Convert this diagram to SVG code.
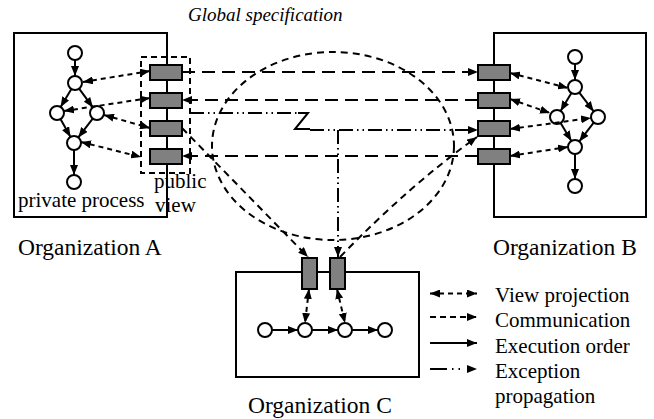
<svg xmlns="http://www.w3.org/2000/svg" width="654" height="419" viewBox="0 0 654 419">
<defs>
<marker id="ah" viewBox="0 0 10 8" refX="10" refY="4" markerWidth="10" markerHeight="8" markerUnits="userSpaceOnUse" orient="auto-start-reverse">
<path d="M0,0 L10,4 L0,8 z" fill="#000"/>
</marker>
<style>
.box{fill:#fff;stroke:#000;stroke-width:2}
.port{fill:#808080;stroke:#000;stroke-width:2}
.node{fill:#fff;stroke:#000;stroke-width:2}
text{fill:#000}
.exec{stroke:#000;stroke-width:2;fill:none;marker-end:url(#ah)}
.vp{stroke:#000;stroke-width:2;fill:none;stroke-dasharray:5 4;marker-start:url(#ah);marker-end:url(#ah)}
.comm{stroke:#000;stroke-width:2;fill:none;stroke-dasharray:13 7;marker-end:url(#ah)}
.comm2{stroke:#000;stroke-width:2;fill:none;stroke-dasharray:7 5;marker-end:url(#ah)}
.ell{stroke:#000;stroke-width:2;fill:none;stroke-dasharray:7 5}
.exc{stroke:#000;stroke-width:2;fill:none;stroke-dasharray:14 4 1.5 4 1.5 4}
.solid{stroke:#000;stroke-width:2;fill:none}
.pv{fill:none;stroke:#000;stroke-width:2;stroke-dasharray:6 4}
</style>
</defs>
<rect width="654" height="419" fill="#fff"/>
<g font-family="Liberation Serif, Times New Roman, serif">
<text x="188" y="21" font-size="19" font-style="italic">Global specification</text>
</g>

<g id="orgA" font-family="Liberation Serif, Times New Roman, serif">
<rect class="box" x="14" y="33" width="153" height="184"/>
<rect class="pv" x="141" y="57" width="49" height="116"/>
<rect class="port" x="150" y="65" width="32" height="15"/>
<rect class="port" x="150" y="93" width="32" height="15"/>
<rect class="port" x="150" y="121" width="32" height="15"/>
<rect class="port" x="150" y="149" width="32" height="15"/>
<circle class="node" cx="75" cy="53" r="7"/>
<circle class="node" cx="75" cy="83" r="7"/>
<circle class="node" cx="57" cy="113" r="7"/>
<circle class="node" cx="97" cy="113" r="7"/>
<circle class="node" cx="74" cy="143" r="7"/>
<circle class="node" cx="74" cy="182" r="7"/>
<text x="18" y="207" font-size="21">private process</text>
<text x="154" y="188" font-size="21">public</text>
<text x="155" y="212" font-size="21">view</text>
<text x="18" y="255" font-size="23.5">Organization A</text>
</g>

<g id="orgB" font-family="Liberation Serif, Times New Roman, serif">
<rect class="box" x="494" y="33" width="152" height="184"/>
<rect class="port" x="478" y="65" width="32" height="15"/>
<rect class="port" x="478" y="93" width="32" height="15"/>
<rect class="port" x="478" y="121" width="32" height="15"/>
<rect class="port" x="478" y="149" width="32" height="15"/>
<circle class="node" cx="575" cy="57" r="7"/>
<circle class="node" cx="575" cy="87" r="7"/>
<circle class="node" cx="557" cy="117" r="7"/>
<circle class="node" cx="598" cy="117" r="7"/>
<circle class="node" cx="575" cy="147" r="7"/>
<circle class="node" cx="575" cy="186" r="7"/>
<text x="493" y="255" font-size="23.5">Organization B</text>
</g>

<g id="orgC" font-family="Liberation Serif, Times New Roman, serif">
<rect class="box" x="236" y="272" width="183" height="105"/>
<rect class="port" x="302" y="258" width="15" height="31"/>
<rect class="port" x="330" y="258" width="15" height="31"/>
<circle class="node" cx="265" cy="330" r="7"/>
<circle class="node" cx="305" cy="330" r="7"/>
<circle class="node" cx="345" cy="330" r="7"/>
<circle class="node" cx="385" cy="330" r="7"/>
<text x="248" y="413" font-size="23.5">Organization C</text>
</g>

<g id="connectors">
<path class="exec" d="M75,60 L75,76"/>
<path class="exec" d="M71.4,89 L60.6,107"/>
<path class="exec" d="M79.1,88.6 L92.9,107.4"/>
<path class="exec" d="M60.5,119.1 L70.5,136.9"/>
<path class="exec" d="M92.7,118.6 L78.3,137.4"/>
<path class="exec" d="M74,150 L74,175"/>
<path class="exec" d="M575,64 L575,80"/>
<path class="exec" d="M571.4,93 L560.6,111"/>
<path class="exec" d="M579.3,92.6 L593.7,111.4"/>
<path class="exec" d="M560.6,123 L571.4,141"/>
<path class="exec" d="M593.7,122.6 L579.3,141.4"/>
<path class="exec" d="M575,154 L575,179"/>
<path class="exec" d="M272,330 L298,330"/>
<path class="exec" d="M312,330 L338,330"/>
<path class="exec" d="M352,330 L378,330"/>
<path class="vp" d="M83,82 L150,71"/>
<path class="vp" d="M64,111 L150,98"/>
<path class="vp" d="M104,115 L150,128"/>
<path class="vp" d="M81,142 L141,157"/>
<path class="vp" d="M510,73 L568,88"/>
<path class="vp" d="M510,99 L550,113"/>
<path class="vp" d="M510,129 L591,118"/>
<path class="vp" d="M510,156 L568,147"/>
<path class="vp" d="M309,289 L305,323"/>
<path class="vp" d="M337,289 L345,323"/>
<path class="comm" d="M182,72 H478"/>
<path class="comm" d="M478,100 H182"/>
<path class="comm" d="M478,156 H182"/>
<ellipse class="ell" cx="333" cy="146" rx="121" ry="94"/>
<path class="comm2" d="M182,128 L308,257"/>
<path class="comm2" d="M340,257 Q410,185 477,137"/>
<path class="exc" d="M190,113 H298"/>
<path class="solid" d="M298,113 H308 L295,129 H310"/>
<path class="exc" d="M310,130 H478" style="marker-end:url(#ah)"/>
<path class="exc" d="M338,130 V257" style="marker-end:url(#ah)"/>
</g>

<g id="legend" font-family="Liberation Serif, Times New Roman, serif">
<path class="vp" d="M430,293.5 H477"/>
<path class="comm2" d="M430,317 H477" style="stroke-dasharray:6 4"/>
<path class="exec" d="M430,343 H477"/>
<path class="exc" d="M430,369 H477" style="stroke-dasharray:17 5 1.5 5 1.5 30;marker-end:url(#ah)"/>
<text x="495" y="302" font-size="21">View projection</text>
<text x="495" y="327" font-size="21">Communication</text>
<text x="495" y="352.5" font-size="21">Execution order</text>
<text x="495" y="378" font-size="21">Exception</text>
<text x="495" y="403" font-size="21">propagation</text>
</g>
</svg>
